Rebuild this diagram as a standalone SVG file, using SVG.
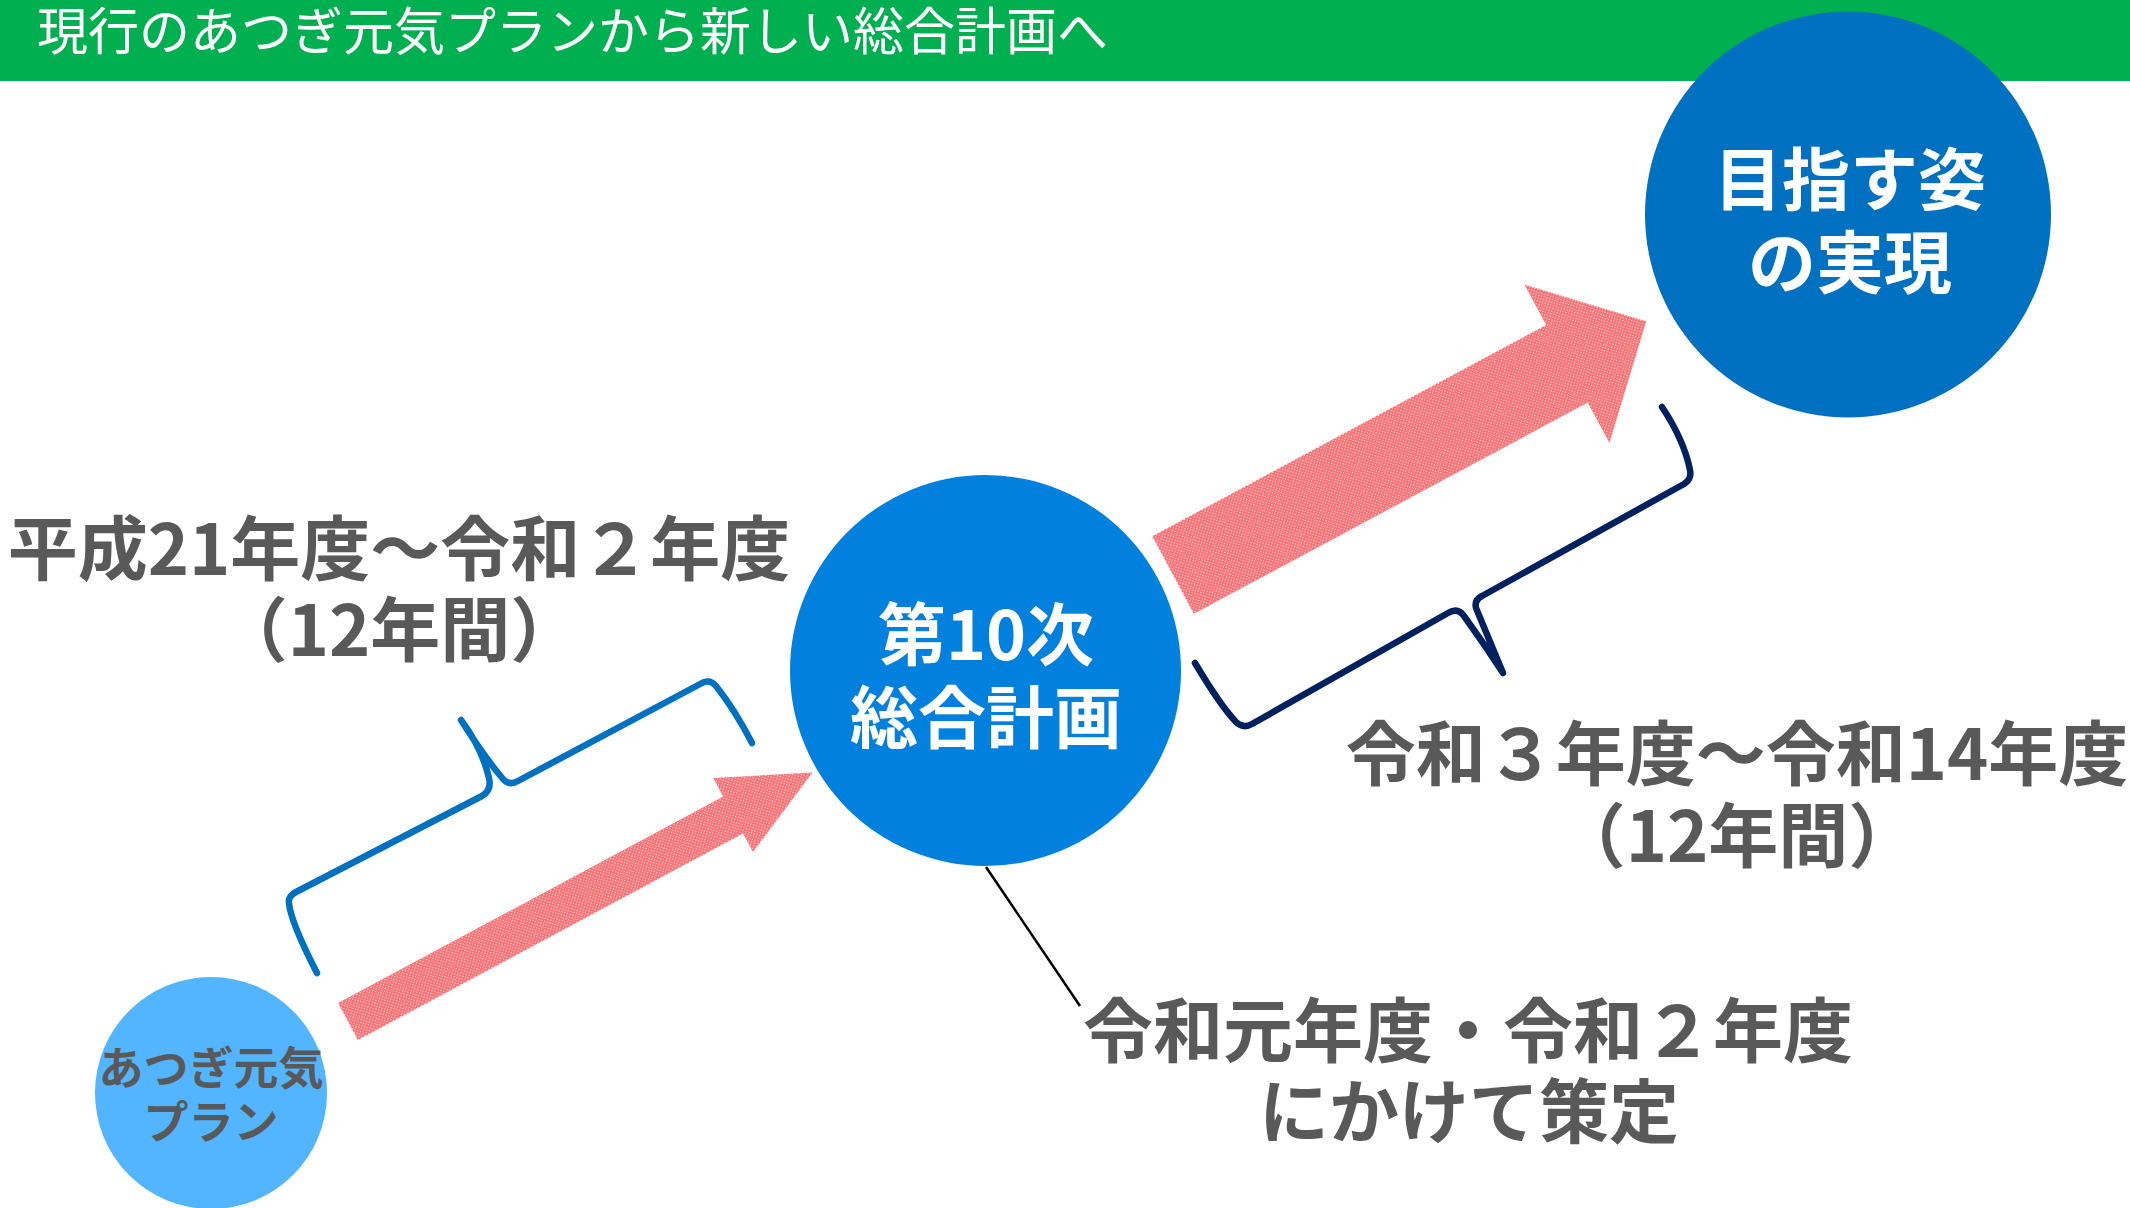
<svg xmlns="http://www.w3.org/2000/svg" width="2130" height="1208" viewBox="0 0 2130 1208">
<style>
.gray{font-family:"Noto Sans CJK JP","Noto Sans",sans-serif;font-weight:700;fill:#595959;text-anchor:middle}
.white{font-family:"Noto Sans CJK JP","Noto Sans",sans-serif;font-weight:700;fill:#ffffff;text-anchor:middle}
.brace{fill:none;stroke-width:6.5;stroke-linecap:round;stroke-linejoin:round}
</style>
<defs>
<pattern id="dots" width="4" height="4" patternUnits="userSpaceOnUse">
<rect width="4" height="4" fill="#FF7276"/>
<rect x="0" y="0" width="1" height="1" fill="#ffffff"/>
<rect x="2" y="2" width="1" height="1" fill="#ffffff"/>
</pattern>
</defs>
<rect width="2130" height="1208" fill="#ffffff"/>
<g id="header">
<rect x="0" y="0" width="2130" height="81" fill="#00B050"/>
<text x="37" y="50" font-family="'Noto Sans CJK JP','Noto Sans',sans-serif" font-size="51" fill="#ffffff">現行のあつぎ元気プランから新しい総合計画へ</text>
</g>
<g id="connectors">
<path d="M0,-21 L437,-21 L437,-42 L527,0 L437,42 L437,21 L0,21 Z" fill="url(#dots)" transform="translate(348,1021.5) rotate(-28.2)"/>
<path d="M0,-44 L447,-44 L447,-90 L537,0 L447,90 L447,44 L0,44 Z" fill="url(#dots)" transform="translate(1173,575) rotate(-28.2)"/>
<path class="brace" stroke="#0070C0" d="M317,973 C300,940 290,915 289,903 Q288,896 296,892 L482,796 Q492,790 489,778 Q482,748 461,720 Q485,758 503,779 Q509,786 518,781 L702,683 Q710,679 716,686 Q735,710 752,743"/>
<path class="brace" stroke="#002060" d="M1195,663 Q1220,705 1236,722 Q1243,729 1252,724 L1448,613 Q1458,607 1464,616 Q1485,645 1503,673 Q1485,630 1476,608 Q1474,600 1482,596 L1684,484 Q1692,479 1690,470 Q1684,440 1662,407"/>
<line x1="986" y1="867" x2="1080" y2="1006" stroke="#000000" stroke-width="2.5"/>
</g>
<g id="node-atsugi">
<circle cx="211" cy="1093" r="116" fill="#53B4FF"/>
<text class="gray" font-size="45"><tspan x="211" y="1085">あつぎ元気</tspan><tspan x="211" y="1139">プラン</tspan></text>
</g>
<g id="node-plan10">
<circle cx="985.5" cy="670.5" r="195.5" fill="#0280DD"/>
<text class="white" font-size="68"><tspan x="986" y="660">第10次</tspan><tspan x="986" y="743">総合計画</tspan></text>
</g>
<g id="node-goal">
<circle cx="1848" cy="214.5" r="203" fill="#0070C0"/>
<text class="white" font-size="68"><tspan x="1850" y="205">目指す姿</tspan><tspan x="1850" y="288">の実現</tspan></text>
</g>
<g id="label-left">
<text class="gray" font-size="70"><tspan x="399" y="575">平成21年度～令和２年度</tspan><tspan x="399" y="656">（12年間）</tspan></text>
</g>
<g id="label-right">
<text class="gray" font-size="70"><tspan x="1737" y="780">令和３年度～令和14年度</tspan><tspan x="1737" y="862">（12年間）</tspan></text>
</g>
<g id="label-bottom">
<text class="gray" font-size="70"><tspan x="1468" y="1057">令和元年度・令和２年度</tspan><tspan x="1469" y="1138">にかけて策定</tspan></text>
</g>
</svg>
